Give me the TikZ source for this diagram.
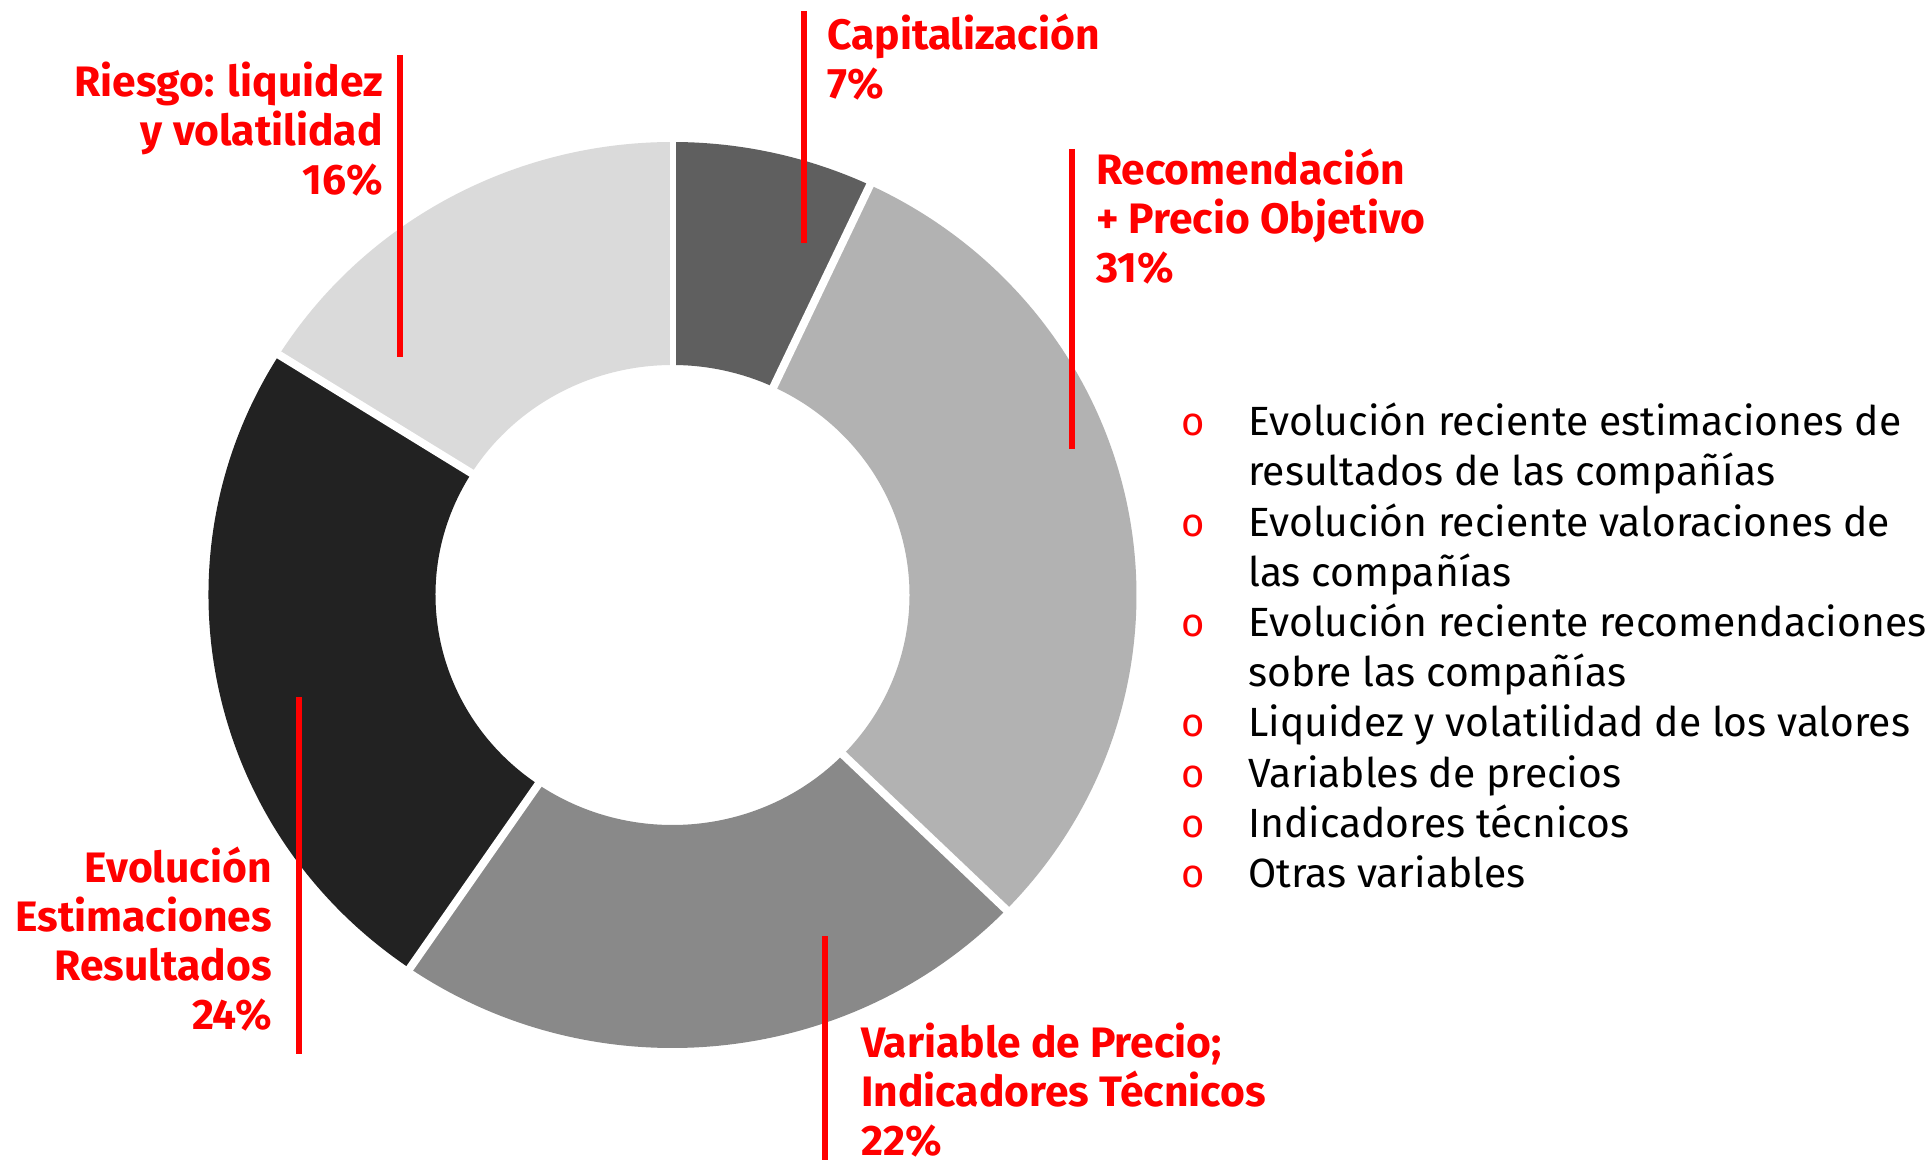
\documentclass[tikz,border=0pt]{standalone}
\usepackage{fontspec}
\setmainfont{Fira Sans}
\definecolor{capc}{HTML}{5F5F5F}
\definecolor{recc}{HTML}{B2B2B2}
\definecolor{varc}{HTML}{898989}
\definecolor{evoc}{HTML}{222222}
\definecolor{risc}{HTML}{DADADA}
\definecolor{lblred}{HTML}{FF0000}
\newcommand\donutseg[3]{\fill[#3] (#1:464 and 453) arc[start angle=#1,end angle=#2,x radius=464,y radius=453] -- (#2:237 and 230) arc[start angle=#2,end angle=#1,x radius=237,y radius=230] -- cycle;}
\begin{document}
\begin{tikzpicture}[x=1pt,y=-1pt,
  lbl/.style={text=lblred, font=\bfseries\fontsize{42.6}{49}\selectfont, inner sep=0pt},
  lblL/.style={lbl, align=left, anchor=base west},
  lblR/.style={lbl, align=right, anchor=base east},
  item/.style={text=black, font=\fontsize{40.8}{50.2}\selectfont, inner sep=0pt, align=left, anchor=base west},
  bul/.style={text=lblred, font=\fontsize{40}{40}\selectfont, inner sep=0pt, anchor=base},
  leader/.style={draw=lblred, line width=6pt},
  gap/.style={draw=white, line width=8pt}]
\useasboundingbox[fill=white] (0,0) rectangle (1931,1166);
% donut
\begin{scope}[shift={(672.5,595)},yscale=-1]
  \donutseg{90}{64.8}{capc}
  \donutseg{64.8}{-44}{recc}
  \donutseg{-44}{-124.5}{varc}
  \donutseg{-124.5}{-212}{evoc}
  \donutseg{-212}{-270}{risc}
  \foreach \a in {64.8,-44,-124.5,-212}
    \draw[gap] (\a:228 and 221) -- (\a:472 and 461);
  \draw[gap, line width=6pt] (90:228 and 221) -- (90:472 and 461);
\end{scope}
% leader lines
\coordinate (capT) at (804,11);    \coordinate (capB) at (804,243);
\coordinate (risT) at (400,55);    \coordinate (risB) at (400,357);
\coordinate (recT) at (1072,149);  \coordinate (recB) at (1072,449);
\coordinate (evoT) at (299,697);   \coordinate (evoB) at (299,1054);
\coordinate (varT) at (825,936);   \coordinate (varB) at (825,1160);
\draw[leader] (capT) -- (capB);
\draw[leader] (risT) -- (risB);
\draw[leader] (recT) -- (recB);
\draw[leader] (evoT) -- (evoB);
\draw[leader] (varT) -- (varB);
% labels (anchor = baseline of last line)
\node[lblL] (capL) at (827,99) {Capitalización\\7\%};
\node[lblR] (risL) at (383,195) {Riesgo: liquidez\\y volatilidad\\16\%};
\node[lblL] (recL) at (1096,283) {Recomendación\\+ Precio Objetivo\\31\%};
\node[lblR] (evoL) at (272,1029) {Evolución\\Estimaciones\\Resultados\\24\%};
\node[lblL] (varL) at (861,1155) {Variable de Precio;\\Indicadores Técnicos\\22\%};
% list
\node[bul] (b1) at (1193,435.7) {o};
\node[bul] (b2) at (1193,536.1) {o};
\node[bul] (b3) at (1193,636.5) {o};
\node[bul] (b4) at (1193,736.9) {o};
\node[bul] (b5) at (1193,787.1) {o};
\node[bul] (b6) at (1193,837.3) {o};
\node[bul] (b7) at (1193,887.5) {o};
\node[item] (i1) at (1248,485.9) {Evolución reciente estimaciones de\\resultados de las compañías};
\node[item] (i2) at (1248,586.3) {Evolución reciente valoraciones de\\las compañías};
\node[item] (i3) at (1248,686.7) {Evolución reciente recomendaciones\\sobre las compañías};
\node[item] (i4) at (1248,736.9) {Liquidez y volatilidad de los valores};
\node[item] (i5) at (1248,787.1) {Variables de precios};
\node[item] (i6) at (1248,837.3) {Indicadores técnicos};
\node[item] (i7) at (1248,887.5) {Otras variables};
\end{tikzpicture}
\end{document}
